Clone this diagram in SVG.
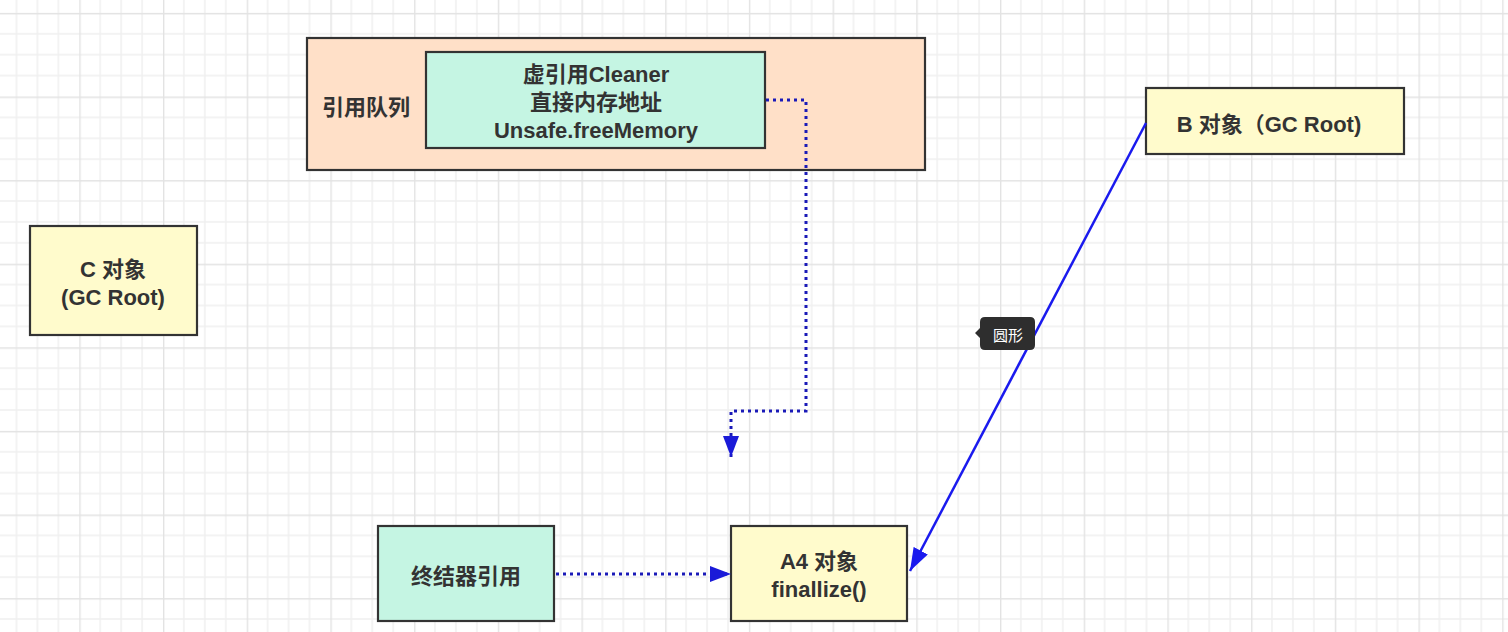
<svg xmlns="http://www.w3.org/2000/svg" width="1508" height="632" viewBox="0 0 1508 632">
<style>
.box{stroke:#333;stroke-width:2.2}
.yel{fill:#fffbcc}
.mint{fill:#c5f5e3}
.peach{fill:#ffe0c8}
.t{font-family:"Liberation Sans","Noto Sans CJK SC",sans-serif;font-weight:bold;font-size:22px;fill:#333;text-anchor:middle;dominant-baseline:central}
.dot{fill:none;stroke:#1a1ab8;stroke-width:3;stroke-dasharray:3 4}
.solid{fill:none;stroke:#1a1aee;stroke-width:2.5}
</style>
<defs>
<pattern id="grid" patternUnits="userSpaceOnUse" x="79.3" y="96.5" width="83.7" height="83.6">
<path d="M20.9 0V83.6M41.85 0V83.6M62.8 0V83.6M0 20.9H83.7M0 41.8H83.7M0 62.7H83.7" stroke="#f0f0f0" stroke-width="1.5" fill="none"/>
<path d="M0.5 0V83.6M0 0.5H83.7" stroke="#e3e3e3" stroke-width="1.8" fill="none"/>
</pattern>
<marker id="ad" markerUnits="userSpaceOnUse" markerWidth="22" markerHeight="16" refX="21" refY="8" orient="auto">
<path d="M0 0L21 8L0 16Z" fill="#1a1ad8"/>
</marker>
<marker id="as" markerUnits="userSpaceOnUse" markerWidth="24" markerHeight="16" refX="23" refY="8" orient="auto">
<path d="M0 0L23 8L0 16Z" fill="#1a1aee"/>
</marker>
</defs>
<rect width="1508" height="632" fill="#fff"/>
<rect width="1508" height="632" fill="url(#grid)"/>

<g id="queue">
<rect class="box peach" x="307" y="38" width="618" height="132"/>
<text class="t" x="366" y="107">引用队列</text>
</g>
<g id="cleaner">
<rect class="box mint" x="426" y="52" width="339" height="96"/>
<text class="t" x="596" y="74">虚引用Cleaner</text>
<text class="t" x="596" y="102">直接内存地址</text>
<text class="t" x="596" y="130">Unsafe.freeMemory</text>
</g>
<g id="c">
<rect class="box yel" x="30" y="226" width="167" height="109"/>
<text class="t" x="113" y="269">C 对象</text>
<text class="t" x="113" y="297">(GC Root)</text>
</g>
<g id="b">
<rect class="box yel" x="1146" y="88" width="258" height="66"/>
<text class="t" x="1269" y="124">B 对象（GC Root)</text>
</g>
<g id="finalizer">
<rect class="box mint" x="378" y="526" width="176" height="95"/>
<text class="t" x="466" y="576">终结器引用</text>
</g>
<g id="a4">
<rect class="box yel" x="731" y="526" width="176" height="95"/>
<text class="t" x="819" y="561">A4 对象</text>
<text class="t" x="819" y="589">finallize()</text>
</g>

<g id="connectors">
<path class="dot" d="M766 100H806V411H731V457" marker-end="url(#ad)"/>
<path class="dot" d="M556 574H731" marker-end="url(#ad)"/>
<path class="solid" d="M1146 123L910 571" marker-end="url(#as)"/>
</g>

<g id="tooltip">
<path d="M985 317H1030Q1035 317 1035 322V345Q1035 350 1030 350H985Q980 350 980 345V338L975 333L980 328V322Q980 317 985 317Z" fill="#2e2e2e"/>
<text x="1008" y="334" style="font-family:'Noto Sans CJK SC',sans-serif;font-size:15px;fill:#fff;text-anchor:middle;dominant-baseline:central">圆形</text>
</g>
</svg>
